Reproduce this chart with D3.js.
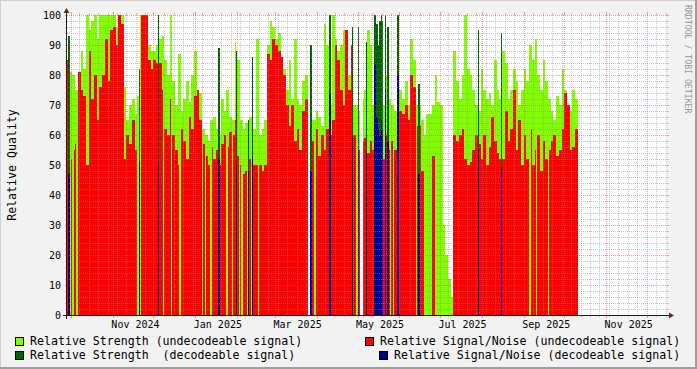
<!DOCTYPE html>
<html lang="en">
<head>
<meta charset="UTF-8">
<title>Relative Quality</title>
<script src="https://d3js.org/d3.v7.min.js"></script>
<style>
    body { margin: 0; background: #f2f2f2; }
    svg text { font-family: "DejaVu Sans Mono", monospace; fill: #000; }
    .legend text { white-space: pre; }
</style>
</head>
<body>
<svg id="chart" width="697" height="369"></svg>
<script>
// Time frame of the graph
const startDate = new Date(Date.UTC(2024, 8, 28));
const endDate = new Date(Date.UTC(2025, 11, 16));
const stepDays = 2;   // one value per two days in the main series

// Undecodeable signal, one value per 2 days
const strengthUndecodeable = [
    82, 81, 80, 75, 80, 88, 82, 100, 95, 98,
    100, 92, 100, 100, 100, 100, 100, 100, 96, 100,
    100, 76, 65, 70, 72, 67, 73, 100, 100, 100,
    90, 88, 88, 90, 92, 93, 85, 80, 100, 78,
    70, 87, 68, 72, 78, 71, 80, 88, 74, 74,
    62, 60, 58, 65, 66, 62, 60, 72, 68, 75,
    66, 65, 91, 85, 65, 62, 64, 66, 66, 62,
    92, 60, 62, 65, 90, 98, 96, 92, 94, 85,
    82, 75, 85, 72, 92, 72, 70, 78, 80, 0,
    65, 65, 68, 66, 63, 97, 90, 70, 100, 92,
    88, 90, 95, 93, 80, 82, 70, 70, 68, 72,
    75, 95, 90, 70, 72, 70, 72, 70, 80, 72,
    70, 68, 72, 75, 72, 78, 70, 92, 85, 70,
    70, 65, 60, 67, 67, 70, 80, 71, 70, 30,
    20, 12, 6, 88, 78, 72, 80, 100, 82, 80,
    75, 70, 68, 82, 75, 72, 74, 70, 85, 75,
    72, 88, 84, 72, 75, 82, 78, 70, 75, 82,
    78, 90, 85, 92, 80, 75, 85, 78, 72, 68,
    65, 73, 70, 82, 75, 70, 68, 75, 72
];
const snrUndecodeable = [
    85, 52, 55, 57, 81, 75, 73, 50, 88, 72,
    80, 65, 76, 80, 92, 78, 95, 96, 90, 100,
    97, 52, 60, 57, 65, 55, 50, 100, 100, 100,
    85, 82, 85, 84, 84, 75, 62, 60, 72, 60,
    55, 50, 62, 58, 52, 66, 62, 73, 75, 65,
    57, 53, 50, 56, 52, 55, 50, 57, 60, 56,
    61, 60, 65, 53, 50, 47, 48, 52, 55, 50,
    50, 50, 48, 50, 87, 85, 92, 90, 88, 86,
    80, 70, 63, 70, 58, 62, 55, 68, 72, 0,
    58, 58, 62, 53, 60, 55, 62, 60, 65, 90,
    85, 75, 70, 95, 75, 90, 60, 60, 55, 58,
    59, 54, 58, 55, 55, 52, 55, 52, 60, 55,
    58, 55, 58, 68, 67, 70, 65, 80, 76, 63,
    63, 48, 0, 0, 0, 53, 0, 0, 0, 0,
    0, 0, 0, 60, 58, 60, 62, 52, 50, 51,
    55, 60, 57, 52, 60, 50, 56, 66, 58, 54,
    52, 52, 68, 58, 62, 75, 55, 65, 50, 60,
    52, 62, 50, 55, 60, 48, 58, 52, 55, 58,
    60, 53, 55, 62, 74, 70, 55, 56, 62
];

// days (offset from start) where only the strength was logged
const snrMissingDays = [2, 4, 7, 52, 54, 71, 77, 83, 100, 102, 106, 118, 122, 127,
    129, 133, 136, 141, 183, 214, 239, 241, 258, 342, 347, 356];
// days with no data at all
const blankDays = [178, 179, 217, 218];

// decodeable signal, single days
const decodedDays = [1, 53, 67, 112, 125, 134, 137, 180, 194, 211, 215, 221,
    227, 228, 229, 230, 231, 232, 233, 235, 237, 244, 245, 260, 304, 321];
const strengthDecodeable = [93, 82, 100, 89, 88, 65, 86, 90, 100, 96, 96, 91,
    100, 100, 97, 90, 98, 100, 98, 100, 96, 100, 100, 77, 95, 94];
const snrDecodeable = [47, 51, 50, 52, 50, 48, 53, 48, 74, 59, 55, 54,
    83, 84, 66, 62, 60, 65, 62, 75, 58, 80, 80, 47, 55, 49];

const yTicks = [0, 10, 20, 30, 40, 50, 60, 70, 80, 90, 100];

// Build one row per day
const nDays = strengthUndecodeable.length * stepDays;
const rows = d3.range(nDays + 1).map(d => {
    const i = Math.min(Math.floor(d / stepDays), strengthUndecodeable.length - 1);
    const row = {
        date: d3.utcDay.offset(startDate, d),
        strU: strengthUndecodeable[i],
        snrU: snrUndecodeable[i],
        strD: 0,
        snrD: 0
    };
    if (snrMissingDays.includes(d)) row.snrU = 0;
    if (blankDays.includes(d)) { row.strU = 0; row.snrU = 0; }
    const k = decodedDays.indexOf(d);
    if (k >= 0) {
        row.strU = 0; row.snrU = 0;
        row.strD = strengthDecodeable[k];
        row.snrD = snrDecodeable[k];
    }
    return row;
});

const X0 = 67, X1 = 667, Y0 = 315, Y1 = 15;
const svg = d3.select("#chart");
const x = d3.scaleUtc().domain([startDate, endDate]).range([X0, X1]);
const y = d3.scaleLinear().domain([0, 100]).range([Y0, Y1]);

// background + 3d frame
svg.append("rect").attr("width", 697).attr("height", 369).attr("fill", "#f2f2f2");
svg.append("path").attr("d", "M0,368V0H696").attr("stroke", "#cfcfcf").attr("stroke-width", 2).attr("fill", "none");
svg.append("path").attr("d", "M0,368H696V0").attr("stroke", "#9e9e9e").attr("stroke-width", 2).attr("fill", "none");

// canvas
svg.append("rect").attr("x", X0).attr("y", Y1).attr("width", X1 - X0).attr("height", Y0 - Y1).attr("fill", "#fff");

// data areas, drawn in rrd order
const series = [
    { key: "strU", color: "#80ff00" },
    { key: "snrU", color: "#ff0000" },
    { key: "strD", color: "#006400" },
    { key: "snrD", color: "#000096" }
];
series.forEach(s => {
    const area = d3.area()
        .x(d => x(d.date))
        .y0(y(0))
        .y1(d => y(d[s.key]))
        .curve(d3.curveStepAfter);
    svg.append("path")
        .datum(rows)
        .attr("d", area)
        .attr("fill", s.color)
        .attr("shape-rendering", "crispEdges");
});

// grid on top of the data
const grid = svg.append("g").attr("shape-rendering", "crispEdges").attr("fill", "none");
const minorCol = "rgba(140,140,140,0.5)", majorCol = "rgba(222,79,79,0.55)";

d3.range(0, 101, 2).forEach(v => {
    const yy = Math.round(y(v)) + 0.5;
    const major = v % 10 === 0;
    const col = major ? majorCol : minorCol;
    if (v > 0) {
        grid.append("line").attr("x1", X0).attr("x2", X1).attr("y1", yy).attr("y2", yy)
            .attr("stroke", col).attr("stroke-dasharray", "1,1");
    }
    grid.append("line").attr("x1", X0 - 2).attr("x2", X0).attr("y1", yy).attr("y2", yy).attr("stroke", col);
    grid.append("line").attr("x1", X1).attr("x2", X1 + 2).attr("y1", yy).attr("y2", yy).attr("stroke", col);
});

const months = d3.utcMonth.range(startDate, endDate);
const weeks = d3.utcMonday.range(startDate, endDate)
    .filter(w => !months.some(m => Math.abs(x(m) - x(w)) < 2));
weeks.forEach(w => {
    const xx = Math.round(x(w)) + 0.5;
    grid.append("line").attr("x1", xx).attr("x2", xx).attr("y1", Y1).attr("y2", Y0)
        .attr("stroke", minorCol).attr("stroke-dasharray", "1,1");
    grid.append("line").attr("x1", xx).attr("x2", xx).attr("y1", Y0).attr("y2", Y0 + 2).attr("stroke", minorCol);
    grid.append("line").attr("x1", xx).attr("x2", xx).attr("y1", Y1 - 2).attr("y2", Y1).attr("stroke", minorCol);
});
months.forEach(m => {
    const xx = Math.round(x(m)) + 0.5;
    grid.append("line").attr("x1", xx).attr("x2", xx).attr("y1", Y1).attr("y2", Y0)
        .attr("stroke", majorCol).attr("stroke-dasharray", "1,1");
    grid.append("line").attr("x1", xx).attr("x2", xx).attr("y1", Y0).attr("y2", Y0 + 3).attr("stroke", majorCol);
    grid.append("line").attr("x1", xx).attr("x2", xx).attr("y1", Y1 - 3).attr("y2", Y1).attr("stroke", majorCol);
});

// axes with arrows
svg.append("line").attr("x1", X0 - 4).attr("x2", X1 + 4).attr("y1", Y0 + 0.5).attr("y2", Y0 + 0.5)
    .attr("stroke", "#1f1f1f").attr("shape-rendering", "crispEdges");
svg.append("line").attr("x1", X0 - 0.5).attr("x2", X0 - 0.5).attr("y1", Y0 + 4).attr("y2", Y1 - 4)
    .attr("stroke", "#1f1f1f").attr("shape-rendering", "crispEdges");
svg.append("path").attr("d", `M${X1 + 2},${Y0 - 2.5}L${X1 + 2},${Y0 + 3.5}L${X1 + 7},${Y0 + 0.5}Z`).attr("fill", "#801f1f");
svg.append("path").attr("d", `M${X0 - 3.5},${Y1 - 2}L${X0 + 2.5},${Y1 - 2}L${X0 - 0.5},${Y1 - 7}Z`).attr("fill", "#801f1f");

// y tick labels
svg.append("g").selectAll("text").data(yTicks).join("text")
    .attr("x", 61).attr("y", d => y(d)).attr("dy", "0.36em")
    .attr("text-anchor", "end").attr("font-size", "10px")
    .text(d => d);

// x labels every second month, placed like rrdtool (shifted into the month)
const labelMonths = d3.utcMonth.range(d3.utcMonth.ceil(startDate), endDate)
    .filter(m => m.getUTCMonth() % 2 === 0);
svg.append("g").selectAll("text").data(labelMonths).join("text")
    .attr("x", d => x(d) + 22.5).attr("y", 328)
    .attr("text-anchor", "middle").attr("font-size", "10px")
    .text(d => d3.utcFormat("%b %Y")(d));

// y axis title
svg.append("text")
    .attr("transform", "translate(16,165) rotate(-90)")
    .attr("text-anchor", "middle").attr("font-size", "11.6px")
    .text("Relative Quality");

// watermark
svg.append("text")
    .attr("transform", "translate(685,5) rotate(90)")
    .attr("font-size", "8.2px").style("fill", "#969696")
    .text("RRDTOOL / TOBI OETIKER");

// legend (right column ends at x=680)
const legendItems = [
    { label: "Relative Strength (undecodeable signal)", color: "#80ff00", bx: 15, tx: 30, row: 0 },
    { label: "Relative Signal/Noise (undecodeable signal)", color: "#ff0000", bx: 365, tx: 380, row: 0 },
    { label: "Relative Strength  (decodeable signal)", color: "#006400", bx: 15, tx: 30, row: 1 },
    { label: "Relative Signal/Noise (decodeable signal)", color: "#000096", bx: 379, tx: 394, row: 1 }
];
const legend = svg.append("g").attr("class", "legend");
legendItems.forEach(it => {
    const yy = 337 + it.row * 14;
    legend.append("rect").attr("x", it.bx + 0.5).attr("y", yy + 0.5).attr("width", 8).attr("height", 8)
        .attr("fill", it.color).attr("stroke", "#000").attr("shape-rendering", "crispEdges");
    legend.append("text").attr("x", it.tx).attr("y", yy + 8)
        .attr("font-size", "11.6px")
        .attr("textLength", it.label.length * 6.98).attr("lengthAdjust", "spacing")
        .text(it.label);
});
</script>
</body>
</html>
